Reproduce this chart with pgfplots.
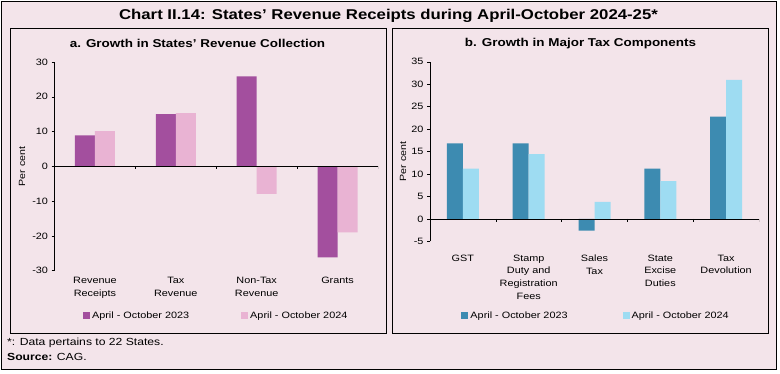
\documentclass[border=0pt]{standalone}
\usepackage{pgfplots}
\pgfplotsset{compat=1.18}
\usepackage{fontspec}
\setmainfont[FakeStretch=1.18]{Liberation Sans}
\definecolor{bg}{HTML}{F3E4EA}
\definecolor{aone}{HTML}{A34F9E}
\definecolor{atwo}{HTML}{E9B3D3}
\definecolor{bone}{HTML}{3D8BB1}
\definecolor{btwo}{HTML}{9EDCF2}
\newcommand{\fs}{\fontsize{9.2}{12.6}\selectfont}
\pgfplotsset{
  panel/.style={
    scale only axis,
    ybar=0pt,
    enlargelimits=false,
    axis x line*=bottom,
    axis y line*=left,
    x axis line style={draw=none},
    xtick style={draw=none},
    ytick style={black, line width=0.5pt},
    y axis line style={black, line width=0.6pt},
    tick align=outside,
    major tick length=3pt,
    /pgf/number format/assume math mode=true,
    tick label style={font=\fs},
    xticklabel style={align=center, font=\fs},
    ylabel={Per cent},
    ylabel style={font=\fontsize{9}{11}\selectfont, anchor=center},
    legend columns=2,
    legend image code/.code={\fill[#1] (0pt,-3.5pt) rectangle (7pt,3.5pt);},
    legend style={draw=none, fill=none, font=\fs, anchor=center},
  }
}
\begin{document}
\begin{tikzpicture}
\useasboundingbox (0pt,0pt) rectangle (780pt,373pt);
\fill[white] (0pt,0pt) rectangle (780pt,373pt);
\draw[fill=bg, line width=0.8pt] (1pt,4pt) rectangle (776.5pt,372pt);
\draw[line width=0.8pt] (10.7pt,39.7pt) rectangle (386pt,344.7pt);
\draw[line width=0.8pt] (392.5pt,39.7pt) rectangle (768.3pt,344.7pt);
\node[font=\fontsize{14.2}{16}\bfseries\selectfont] at (388.5pt,357.5pt) {Chart II.14: States’ Revenue Receipts during April-October 2024-25*};
\node[font=\fontsize{11.4}{14}\bfseries\selectfont] at (197.5pt,329.5pt) {a. Growth in States' Revenue Collection};
\node[font=\fontsize{11.4}{14}\bfseries\selectfont] at (580.5pt,329.5pt) {b. Growth in Major Tax Components};
\node[font=\fontsize{10.3}{12}\selectfont, anchor=west, inner sep=0pt] at (7pt,30pt) {*: Data pertains to 22 States.};
\node[font=\fontsize{10.3}{12}\selectfont, anchor=west, inner sep=0pt] at (7pt,16.3pt) {\textbf{Source:} CAG.};

\begin{axis}[panel,
  at={(54.5pt,102.3pt)}, anchor=south west,
  width=323.5pt, height=208.7pt,
  bar width=20pt,
  xmin=-0.5, xmax=3.5, ymin=-30, ymax=30,
  ytick={-30,-20,...,30},
  xtick={0,1,2,3},
  xticklabels={{Revenue\\Receipts},{Tax\\Revenue},{Non-Tax\\Revenue},{Grants}},
  ylabel style={at={(axis description cs:-0.1005,0.5)}},
  legend style={at={(0.5,-0.217)}, /tikz/every even column/.append style={column sep=50pt}},
]
\addplot[fill=aone, draw=none] coordinates {(0,8.9) (1,15.0) (2,25.9) (3,-26.2)};
\addlegendentry{April - October 2023}
\addplot[fill=atwo, draw=none] coordinates {(0,10.1) (1,15.3) (2,-7.9) (3,-19.0)};
\addlegendentry{April - October 2024}
\draw[black, line width=0.6pt] (axis cs:-0.5,0) -- (axis cs:3.5,0);
\pgfplotsinvokeforeach{0.5,1.5,2.5,3.5}{\draw[black, line width=0.5pt] (axis cs:#1,0) -- ++(0pt,-3pt);}
\end{axis}

\begin{axis}[panel,
  at={(430pt,131.7pt)}, anchor=south west,
  width=329pt, height=179.5pt,
  bar width=16pt,
  xmin=-0.5, xmax=4.5, ymin=-5, ymax=35,
  ytick={-5,0,...,35},
  xtick={0,1,2,3,4},
  xticklabels={{GST},{Stamp\\Duty and\\Registration\\Fees},{Sales\\Tax},{State\\Excise\\Duties},{Tax\\Devolution}},
  xticklabel style={yshift=-7pt},
  ylabel style={at={(axis description cs:-0.082,0.444)}},
  legend style={at={(0.505,-0.416)}, /tikz/every even column/.append style={column sep=53pt}},
]
\addplot[fill=bone, draw=none] coordinates {(0,16.8) (1,16.8) (2,-2.6) (3,11.2) (4,22.8)};
\addlegendentry{April - October 2023}
\addplot[fill=btwo, draw=none] coordinates {(0,11.2) (1,14.4) (2,3.8) (3,8.4) (4,31.0)};
\addlegendentry{April - October 2024}
\draw[black, line width=0.6pt] (axis cs:-0.5,0) -- (axis cs:4.5,0);
\pgfplotsinvokeforeach{0.5,1.5,2.5,3.5,4.5}{\draw[black, line width=0.5pt] (axis cs:#1,0) -- ++(0pt,-3pt);}
\end{axis}
\end{tikzpicture}
\end{document}
